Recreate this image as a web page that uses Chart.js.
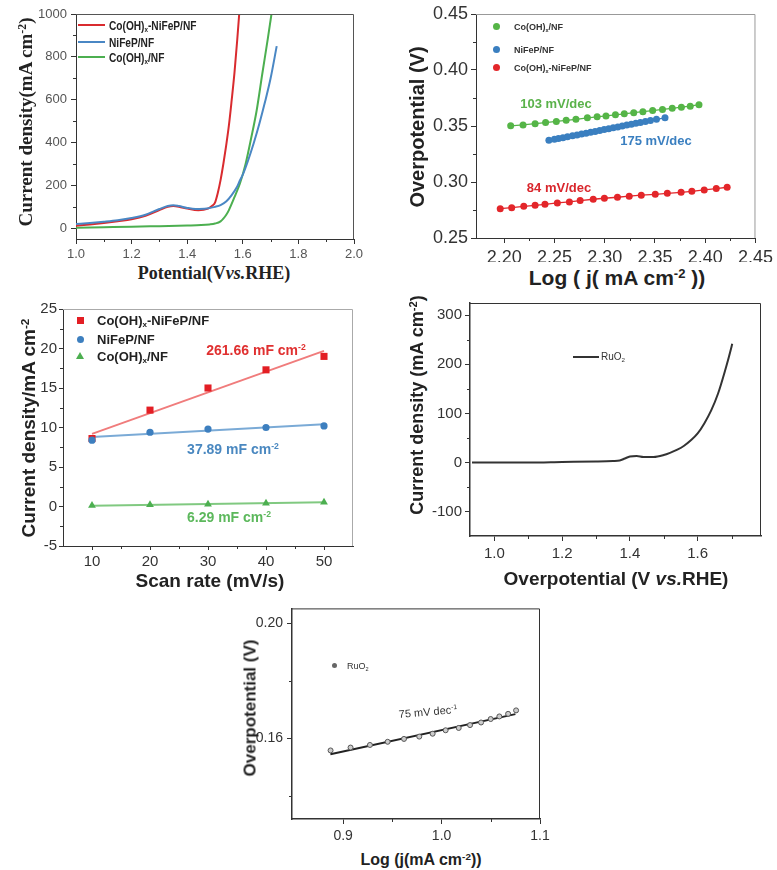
<!DOCTYPE html>
<html lang="en">
<head>
<meta charset="UTF-8" />
<title>OER performance panels</title>
<style>
  body { margin: 0; background: #fff; }
  #page { position: relative; width: 777px; height: 870px; overflow: hidden; font-family: "Liberation Sans", Arial, sans-serif; color: #222; }
  #page canvas { position: absolute; }
  .t { position: absolute; white-space: nowrap; line-height: 1; transform: translate(-50%, -50%); }
  .l { position: absolute; white-space: nowrap; line-height: 1; transform: translateY(-50%); }
  .rot { transform: translate(-50%, -50%) rotate(-90deg); }
  .b { font-weight: bold; }
  .serif { font-family: "Liberation Serif", "Times New Roman", serif; }
  sup, sub { font-size: 0.62em; line-height: 0; position: relative; vertical-align: baseline; }
  sup { top: -0.55em; }
  sub { top: 0.3em; }
  .mk { position: absolute; }
</style>
</head>
<body>
<div id="page">
  <canvas id="c1" width="340" height="262" style="left:30px; top:0px;"></canvas>
  <canvas id="c2" width="357" height="262" style="left:420px; top:0px;"></canvas>
  <canvas id="c3" width="330" height="275" style="left:35px; top:295px;"></canvas>
  <canvas id="c4" width="352" height="275" style="left:425px; top:290px;"></canvas>
  <canvas id="c5" width="310" height="252" style="left:245px; top:596px;"></canvas>

  <!-- panel 1 text -->
  <div class="t rot b serif" style="left:25px; top:122px; font-size:19px;">Current density(mA cm<sup>-2</sup>)</div>
  <div class="t b serif" style="left:214px; top:273px; font-size:18px;">Potential(V<i>vs.</i>RHE)</div>
  <div class="mk" style="left:78px; top:24px; width:27px; height:2px; background:#d92b2f;"></div>
  <div class="mk" style="left:78px; top:41px; width:27px; height:2px; background:#4a87c4;"></div>
  <div class="mk" style="left:78px; top:56px; width:27px; height:2px; background:#4caf50;"></div>
  <div class="l b" style="left:109px; top:25px; font-size:13px; transform:translateY(-50%) scaleX(0.78); transform-origin:left center;">Co(OH)<sub>x</sub>-NiFeP/NF</div>
  <div class="l b" style="left:109px; top:42px; font-size:13px; transform:translateY(-50%) scaleX(0.78); transform-origin:left center;">NiFeP/NF</div>
  <div class="l b" style="left:109px; top:57px; font-size:13px; transform:translateY(-50%) scaleX(0.78); transform-origin:left center;">Co(OH)<sub>x</sub>/NF</div>

  <!-- panel 2 text -->
  <div class="t rot b" style="left:417px; top:127px; font-size:20px;">Overpotential (V)</div>
  <div class="t b" style="left:617px; top:277px; font-size:21px;">Log ( j( mA cm<sup>-2</sup> ))</div>
  <div class="mk" style="left:493px; top:23px; width:7px; height:7px; border-radius:50%; background:#55b547;"></div>
  <div class="mk" style="left:493px; top:46px; width:7px; height:7px; border-radius:50%; background:#3a7fc0;"></div>
  <div class="mk" style="left:493px; top:64px; width:7px; height:7px; border-radius:50%; background:#e3262a;"></div>
  <div class="l b" style="left:514px; top:27px; font-size:9px; color:#333;">Co(OH)<sub>x</sub>/NF</div>
  <div class="l b" style="left:514px; top:50px; font-size:9px; color:#333;">NiFeP/NF</div>
  <div class="l b" style="left:514px; top:68px; font-size:9px; color:#333;">Co(OH)<sub>x</sub>-NiFeP/NF</div>
  <div class="t b" style="left:556px; top:103px; font-size:13px; color:#5ab24a;">103 mV/dec</div>
  <div class="t b" style="left:656px; top:140px; font-size:13px; color:#3a7fc0;">175 mV/dec</div>
  <div class="t b" style="left:559px; top:187px; font-size:13px; color:#d9262c;">84 mV/dec</div>

  <!-- panel 3 text -->
  <div class="t rot b" style="left:28px; top:428px; font-size:19px;">Current density/mA cm<sup>-2</sup></div>
  <div class="t b" style="left:210px; top:580px; font-size:19px;">Scan rate (mV/s)</div>
  <div class="mk" style="left:77px; top:317px; width:7px; height:7px; background:#e31e24;"></div>
  <div class="mk" style="left:77px; top:336px; width:7px; height:7px; border-radius:50%; background:#3d7fbf;"></div>
  <div class="mk" style="left:76px; top:352px; width:0; height:0; border-left:4px solid transparent; border-right:4px solid transparent; border-bottom:7px solid #4caf50;"></div>
  <div class="l b" style="left:97px; top:320px; font-size:13px;">Co(OH)<sub>x</sub>-NiFeP/NF</div>
  <div class="l b" style="left:97px; top:339px; font-size:13px;">NiFeP/NF</div>
  <div class="l b" style="left:97px; top:356px; font-size:13px;">Co(OH)<sub>x</sub>/NF</div>
  <div class="t b" style="left:256px; top:350px; font-size:14px; color:#e03030;">261.66 mF cm<sup>-2</sup></div>
  <div class="t b" style="left:233px; top:449px; font-size:14px; color:#4a88c0;">37.89 mF cm<sup>-2</sup></div>
  <div class="t b" style="left:229px; top:517px; font-size:14px; color:#5cb85c;">6.29 mF cm<sup>-2</sup></div>

  <!-- panel 4 text -->
  <div class="t rot b" style="left:417px; top:405px; font-size:18px;">Current density (mA cm<sup>-2</sup>)</div>
  <div class="t b" style="left:616px; top:578px; font-size:19px;">Overpotential (V <i>vs.</i>RHE)</div>
  <div class="mk" style="left:573px; top:356px; width:26px; height:2px; background:#333;"></div>
  <div class="l" style="left:601px; top:357px; font-size:10px; color:#333;">RuO<sub>2</sub></div>

  <!-- panel 5 text -->
  <div class="t rot b" style="left:250px; top:708px; font-size:17px;">Overpotential (V)</div>
  <div class="t b" style="left:421px; top:860px; font-size:16px;">Log (j(mA cm<sup>-2</sup>))</div>
  <div class="mk" style="left:332px; top:663px; width:5px; height:5px; border-radius:50%; background:#666;"></div>
  <div class="l" style="left:347px; top:666px; font-size:9px; color:#333;">RuO<sub>2</sub></div>
  <div class="t" style="left:428px; top:712px; font-size:11px; color:#333; transform:translate(-50%,-50%) rotate(-5deg);">75 mV dec<sup>-1</sup></div>
</div>

<script src="https://cdn.jsdelivr.net/npm/chart.js"></script>
<script>
  // ---- panel 1: LSV curves ----
  const p1RedX = [1.0, 1.05, 1.1, 1.15, 1.2, 1.25, 1.3, 1.33, 1.35, 1.37, 1.4, 1.44, 1.475, 1.49, 1.5, 1.51, 1.52, 1.53, 1.54, 1.55, 1.56, 1.57, 1.58, 1.59];
  const p1RedY = [12, 18, 25, 33, 42, 58, 85, 100, 104, 101, 92, 84, 92, 105, 120, 165, 225, 300, 385, 480, 598, 725, 880, 1050];
  const p1BlueX = [1.0, 1.05, 1.1, 1.15, 1.2, 1.25, 1.3, 1.33, 1.35, 1.37, 1.4, 1.43, 1.47, 1.5, 1.52, 1.54, 1.56, 1.58, 1.59, 1.6, 1.62, 1.64, 1.66, 1.68, 1.7, 1.722];
  const p1BlueY = [20, 25, 31, 38, 48, 63, 90, 104, 108, 104, 95, 90, 92, 100, 108, 125, 155, 195, 224, 250, 320, 400, 490, 590, 700, 850];
  const p1GreenX = [1.0, 1.1, 1.2, 1.3, 1.4, 1.45, 1.48, 1.5, 1.52, 1.53, 1.54, 1.55, 1.57, 1.59, 1.61, 1.63, 1.65, 1.67, 1.69, 1.7, 1.71];
  const p1GreenY = [3, 5, 7, 10, 13, 15, 18, 22, 32, 45, 62, 85, 145, 210, 300, 420, 551, 720, 885, 972, 1060];

  // ---- panel 2: Tafel plots ----
  const p2GreenX = [2.2065, 2.2188, 2.2308, 2.2412, 2.2519, 2.2617, 2.2714, 2.2828, 2.2925, 2.3013, 2.3107, 2.3195, 2.3289, 2.338, 2.3477, 2.3575, 2.3672, 2.3763, 2.3851, 2.3938];
  const p2GreenY = [0.3502, 0.351, 0.3521, 0.3531, 0.3541, 0.3551, 0.356, 0.3573, 0.3582, 0.359, 0.36, 0.3609, 0.3619, 0.3628, 0.3638, 0.3648, 0.3658, 0.3668, 0.3677, 0.369];
  const p2BlueX = [2.2445, 2.25, 2.254, 2.2585, 2.263, 2.268, 2.2725, 2.277, 2.2815, 2.286, 2.2905, 2.295, 2.2995, 2.304, 2.3085, 2.313, 2.3175, 2.322, 2.3265, 2.331, 2.3355, 2.3405, 2.3455, 2.3515, 2.36];
  const p2BlueY = [0.3372, 0.3381, 0.3389, 0.3396, 0.3404, 0.3412, 0.342, 0.3428, 0.3436, 0.3444, 0.3452, 0.346, 0.3468, 0.3476, 0.3484, 0.3492, 0.35, 0.3508, 0.3516, 0.3524, 0.3532, 0.354, 0.3549, 0.356, 0.3573];
  const p2RedX = [2.1961, 2.2075, 2.2195, 2.2308, 2.2406, 2.2529, 2.2649, 2.2756, 2.2886, 2.2997, 2.3127, 2.3244, 2.3364, 2.3503, 2.3623, 2.376, 2.3867, 2.399, 2.411, 2.4218];
  const p2RedY = [0.2762, 0.2771, 0.2783, 0.2792, 0.2801, 0.2813, 0.2822, 0.2834, 0.2846, 0.2855, 0.2864, 0.2873, 0.2882, 0.289, 0.2899, 0.2908, 0.2917, 0.2929, 0.2941, 0.2953];

  // ---- panel 3: Cdl ----
  const scanRate = [10, 20, 30, 40, 50];
  const p3Red = [8.6, 12.2, 15.0, 17.3, 19.0];
  const p3Blue = [8.4, 9.4, 9.8, 10.0, 10.2];
  const p3Green = [0.12, 0.22, 0.3, 0.42, 0.55];
  const fitRate = [10, 50];
  const p3RedFit = [9.2, 19.7];
  const p3BlueFit = [8.8, 10.4];
  const p3GreenFit = [0.1, 0.55];

  // ---- panel 4: RuO2 LSV ----
  const p4X = [0.934, 1.0, 1.1, 1.2, 1.3, 1.35, 1.37, 1.385, 1.4, 1.42, 1.44, 1.47, 1.5, 1.52, 1.54, 1.56, 1.58, 1.6, 1.62, 1.64, 1.66, 1.68, 1.7, 1.702];
  const p4Y = [0, 0, 0, 1, 2, 3, 4, 8, 12, 13, 11, 11, 15, 20, 26, 34, 45, 59, 80, 106, 140, 185, 236, 242];

  // ---- panel 5: RuO2 Tafel ----
  const p5X = [0.8872, 0.9075, 0.9272, 0.9452, 0.9618, 0.9773, 0.9909, 1.0041, 1.0174, 1.0289, 1.0401, 1.0499, 1.0587, 1.0676, 1.0757];
  const p5Y = [0.1558, 0.1568, 0.1577, 0.1588, 0.1598, 0.1606, 0.1616, 0.1628, 0.1636, 0.1646, 0.1655, 0.1667, 0.1676, 0.1685, 0.1697];
  const p5FitX = [0.887, 1.075];
  const p5FitY = [0.1545, 0.1684];

  const FONT = '"Liberation Sans", Arial, sans-serif';
  const pts = (xs, ys) => xs.map((x, i) => ({ x: x, y: ys[i] }));

  // minor tick marks and frame colour for each canvas
  const extras = {
    c1: { frame: '#555', x: [1.1, 1.3, 1.5, 1.7, 1.9], y: [100, 300, 500, 700, 900] },
    c2: { frame: '#999', x: [2.225, 2.275, 2.325, 2.375, 2.425], y: [0.275, 0.325, 0.375, 0.425] },
    c3: { frame: '#aaa', x: [15, 25, 35, 45], y: [-2.5, 2.5, 7.5, 12.5, 17.5, 22.5] },
    c4: { frame: '#333', x: [1.1, 1.3, 1.5, 1.7], y: [-50, 50, 150, 250] },
    c5: { frame: '#333', x: [0.95, 1.05], y: [0.14, 0.18] }
  };

  const framePlugin = {
    id: 'frame',
    afterDraw(chart) {
      const ex = extras[chart.canvas.id];
      if (!ex) return;
      const ctx = chart.ctx, a = chart.chartArea;
      ctx.save();
      ctx.lineWidth = 1;
      ctx.strokeStyle = ex.frame;
      ctx.beginPath();
      ctx.moveTo(a.left, a.top + 0.5);
      ctx.lineTo(a.right - 0.5, a.top + 0.5);
      ctx.lineTo(a.right - 0.5, a.bottom);
      ctx.stroke();
      ctx.strokeStyle = '#333';
      ctx.beginPath();
      ex.x.forEach(v => {
        const x = Math.round(chart.scales.x.getPixelForValue(v)) + 0.5;
        ctx.moveTo(x, a.bottom); ctx.lineTo(x, a.bottom + 3);
      });
      ex.y.forEach(v => {
        const y = Math.round(chart.scales.y.getPixelForValue(v)) + 0.5;
        ctx.moveTo(a.left, y); ctx.lineTo(a.left - 3, y);
      });
      ctx.stroke();
      ctx.restore();
    }
  };
  Chart.register(framePlugin);

  function axis(o) {
    return {
      type: 'linear',
      min: o.min,
      max: o.max,
      afterBuildTicks: s => { s.ticks = o.ticks.map(v => ({ value: v })); },
      afterFit: s => { if (s.isHorizontal()) s.height = o.size; else s.width = o.size; },
      ticks: {
        callback: v => o.fmt(v),
        font: { size: o.font, family: FONT },
        color: o.color || '#333',
        padding: o.pad,
        maxRotation: 0,
        autoSkip: false
      },
      grid: { drawOnChartArea: false, tickLength: o.tick || 5, color: '#333' },
      border: { color: '#333', width: o.lw || 1 }
    };
  }

  function base(padTop, padRight, xAxis, yAxis) {
    return {
      responsive: false,
      animation: false,
      events: [],
      layout: { padding: { top: padTop, right: padRight, left: 0, bottom: 0 } },
      plugins: { legend: { display: false }, tooltip: { enabled: false } },
      scales: { x: xAxis, y: yAxis }
    };
  }

  // Panel 1
  new Chart(document.getElementById('c1'), {
    type: 'line',
    data: {
      datasets: [
        { data: pts(p1BlueX, p1BlueY), borderColor: '#4a87c4', borderWidth: 2, pointRadius: 0, cubicInterpolationMode: 'monotone' },
        { data: pts(p1RedX, p1RedY), borderColor: '#d92b2f', borderWidth: 2, pointRadius: 0, cubicInterpolationMode: 'monotone' },
        { data: pts(p1GreenX, p1GreenY), borderColor: '#4caf50', borderWidth: 2, pointRadius: 0, cubicInterpolationMode: 'monotone' }
      ]
    },
    options: base(14, 16,
      axis({ min: 1.0, max: 2.0, ticks: [1.0, 1.2, 1.4, 1.6, 1.8, 2.0], fmt: v => v.toFixed(1), size: 23, font: 13, color: '#555', pad: 3 }),
      axis({ min: -50, max: 1000, ticks: [0, 200, 400, 600, 800, 1000], fmt: v => String(v), size: 46, font: 13, color: '#555', pad: 4 }))
  });

  // Panel 2
  const tafel = (xs, ys, c) => ({ data: pts(xs, ys), borderColor: c, backgroundColor: c, borderWidth: 1.3, pointRadius: 3.5, pointBorderWidth: 0, pointBackgroundColor: c, tension: 0 });
  new Chart(document.getElementById('c2'), {
    type: 'line',
    data: { datasets: [tafel(p2GreenX, p2GreenY, '#55b547'), tafel(p2BlueX, p2BlueY, '#3a7fc0'), tafel(p2RedX, p2RedY, '#e3262a')] },
    options: base(14, 16,
      axis({ min: 2.172, max: 2.45, ticks: [2.2, 2.25, 2.3, 2.35, 2.4, 2.45], fmt: v => v.toFixed(2), size: 24, font: 18, pad: 4 }),
      axis({ min: 0.25, max: 0.45, ticks: [0.25, 0.3, 0.35, 0.4, 0.45], fmt: v => v.toFixed(2), size: 56, font: 18, pad: 3 }))
  });

  // Panel 3
  new Chart(document.getElementById('c3'), {
    type: 'line',
    data: {
      datasets: [
        { data: pts(scanRate, p3Blue), showLine: false, pointStyle: 'circle', pointRadius: 3.6, pointBackgroundColor: '#3d7fbf', pointBorderWidth: 0, order: 1 },
        { data: pts(scanRate, p3Red), showLine: false, pointStyle: 'rect', pointRadius: 5, pointBackgroundColor: '#e31e24', pointBorderWidth: 0, order: 2 },
        { data: pts(scanRate, p3Green), showLine: false, pointStyle: 'triangle', pointRadius: 4.5, pointBackgroundColor: '#4caf50', pointBorderWidth: 0, order: 3 },
        { data: pts(fitRate, p3RedFit), borderColor: '#f07c7c', borderWidth: 2, pointRadius: 0, order: 4 },
        { data: pts(fitRate, p3BlueFit), borderColor: '#7aaad6', borderWidth: 2, pointRadius: 0, order: 5 },
        { data: pts(fitRate, p3GreenFit), borderColor: '#80c980', borderWidth: 2, pointRadius: 0, order: 6 }
      ]
    },
    options: base(14, 12,
      axis({ min: 5, max: 55, ticks: [10, 20, 30, 40, 50], fmt: v => String(v), size: 24, font: 15, pad: 3, tick: 4 }),
      axis({ min: -5, max: 25, ticks: [-5, 0, 5, 10, 15, 20, 25], fmt: v => String(v), size: 28, font: 15, pad: 2, tick: 4 }))
  });

  // Panel 4
  new Chart(document.getElementById('c4'), {
    type: 'line',
    data: { datasets: [{ data: pts(p4X, p4Y), borderColor: '#333', borderWidth: 2, pointRadius: 0, cubicInterpolationMode: 'monotone' }] },
    options: base(13, 16,
      axis({ min: 0.928, max: 1.787, ticks: [1.0, 1.2, 1.4, 1.6], fmt: v => v.toFixed(1), size: 29, font: 15, pad: 4, lw: 1.5 }),
      axis({ min: -150, max: 325, ticks: [-100, 0, 100, 200, 300], fmt: v => String(v), size: 45, font: 15, pad: 3, lw: 1.5 }))
  });

  // Panel 5
  new Chart(document.getElementById('c5'), {
    type: 'line',
    data: {
      datasets: [
        { data: pts(p5X, p5Y), showLine: false, pointRadius: 2.5, pointBackgroundColor: '#ccc', pointBorderColor: '#555', pointBorderWidth: 1, order: 1 },
        { data: pts(p5FitX, p5FitY), borderColor: '#222', borderWidth: 2, pointRadius: 0, order: 2 }
      ]
    },
    options: base(10, 15,
      axis({ min: 0.848, max: 1.1, ticks: [0.9, 1.0, 1.1], fmt: v => v.toFixed(1), size: 29, font: 14, pad: 4, lw: 1.5 }),
      axis({ min: 0.132, max: 0.2051, ticks: [0.16, 0.2], fmt: v => v.toFixed(2), size: 47, font: 14, pad: 4, lw: 1.5 }))
  });
</script>
</body>
</html>
